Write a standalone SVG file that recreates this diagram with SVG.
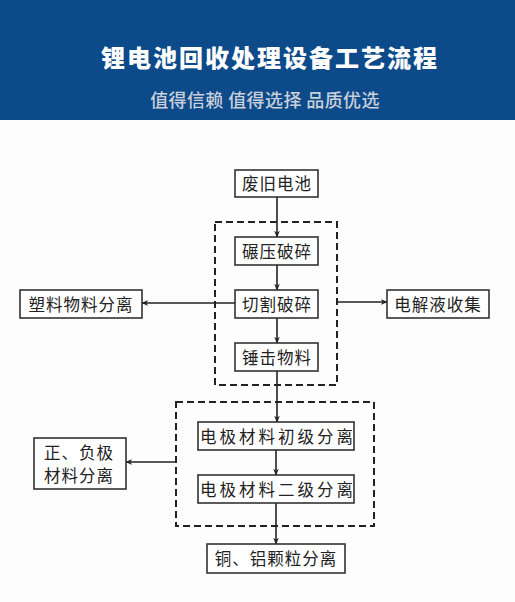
<svg xmlns="http://www.w3.org/2000/svg" width="515" height="602" viewBox="0 0 515 602">
<defs>
<style>
.box{fill:#fff;stroke:#333;stroke-width:1.6}
.dash{fill:none;stroke:#222;stroke-width:2;stroke-dasharray:7,4}
.t{font-family:"Noto Sans CJK SC","Noto Sans",sans-serif;font-size:16.5px;fill:#222;text-anchor:middle}
.c{stroke:#222;stroke-width:1.6;fill:none;marker-end:url(#ah)}
</style>
<marker id="ah" viewBox="0 0 10 10" refX="9" refY="5" markerWidth="7" markerHeight="7" orient="auto" markerUnits="userSpaceOnUse">
<path d="M0,1 L10,5 L0,9 L3,5 Z" fill="#222"/>
</marker>
</defs>
<rect x="0" y="0" width="515" height="602" fill="#fdfdfd"/>
<g id="header">
<rect x="0" y="0" width="515" height="120" fill="#0d4a8a"/>
<text x="270" y="67" font-family="'Noto Sans CJK SC',sans-serif" font-size="24" font-weight="900" fill="#fff" text-anchor="middle" letter-spacing="2">锂电池回收处理设备工艺流程</text>
<text x="265" y="107" font-family="'Noto Sans CJK SC',sans-serif" font-size="18" font-weight="500" fill="#c9d0da" text-anchor="middle" letter-spacing="0.4">值得信赖 值得选择 品质优选</text>
</g>
<g id="groups">
<rect class="dash" x="215" y="222" width="122" height="163"/>
<rect class="dash" x="176" y="402" width="198" height="124"/>
</g>
<g id="connectors">
<line class="c" x1="277" y1="197" x2="277" y2="237"/>
<line class="c" x1="277" y1="265" x2="277" y2="290"/>
<line class="c" x1="277" y1="318" x2="277" y2="343"/>
<line class="c" x1="277" y1="371" x2="277" y2="422"/>
<line class="c" x1="276" y1="450" x2="276" y2="475"/>
<line class="c" x1="276" y1="503" x2="276" y2="544"/>
<line class="c" x1="235" y1="303" x2="142" y2="303"/>
<line class="c" x1="337" y1="302" x2="387" y2="302"/>
<line class="c" x1="176" y1="462" x2="126" y2="462"/>
</g>
<g id="n1"><rect class="box" x="235" y="170" width="83" height="27"/><text class="t" x="277" y="190" letter-spacing="1">废旧电池</text></g>
<g id="n2"><rect class="box" x="235" y="237" width="83" height="28"/><text class="t" x="277" y="258" letter-spacing="1">碾压破碎</text></g>
<g id="n3"><rect class="box" x="235" y="290" width="83" height="28"/><text class="t" x="277" y="311" letter-spacing="1">切割破碎</text></g>
<g id="n4"><rect class="box" x="235" y="343" width="83" height="28"/><text class="t" x="277" y="364" letter-spacing="1">锤击物料</text></g>
<g id="n5"><rect class="box" x="20" y="290" width="122" height="28"/><text class="t" x="81" y="311" letter-spacing="1">塑料物料分离</text></g>
<g id="n6"><rect class="box" x="387" y="290" width="102" height="28"/><text class="t" x="438" y="311" letter-spacing="1">电解液收集</text></g>
<g id="n7"><rect class="box" x="198" y="422" width="156" height="28"/><text class="t" x="278" y="443" letter-spacing="3">电极材料初级分离</text></g>
<g id="n8"><rect class="box" x="198" y="475" width="156" height="28"/><text class="t" x="278" y="496" letter-spacing="3">电极材料二级分离</text></g>
<g id="n9"><rect class="box" x="34" y="438" width="92" height="51"/><text class="t" x="79" y="459" letter-spacing="1">正、负极</text><text class="t" x="79" y="482" letter-spacing="1">材料分离</text></g>
<g id="n10"><rect class="box" x="207" y="544" width="138" height="29"/><text class="t" x="276" y="565" letter-spacing="1">铜、铝颗粒分离</text></g>
</svg>
